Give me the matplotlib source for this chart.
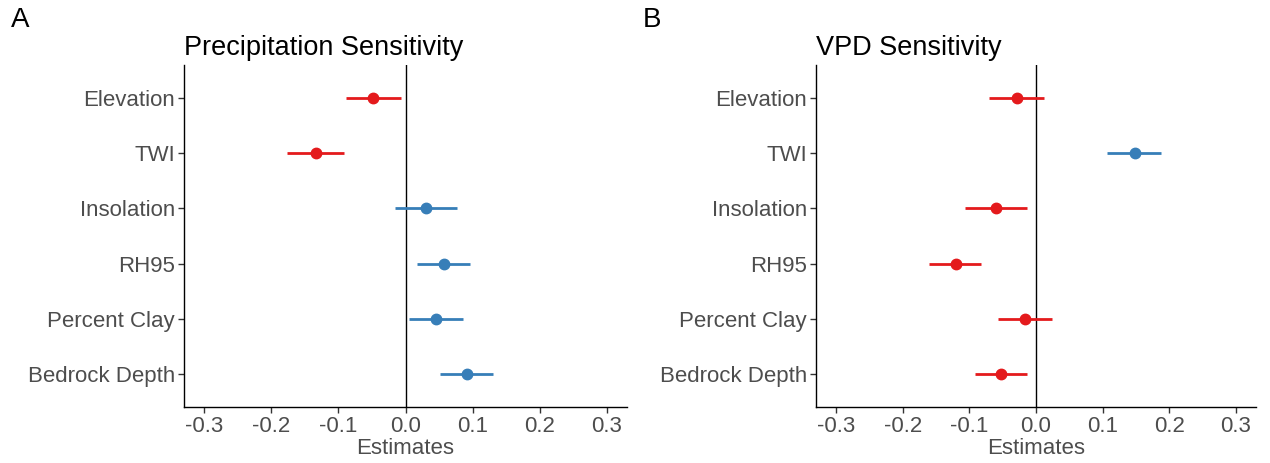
import matplotlib
matplotlib.use("Agg")
import matplotlib.pyplot as plt

# Coefficient estimates with confidence intervals
terms = ["Elevation", "TWI", "Insolation", "RH95", "Percent Clay", "Bedrock Depth"]

precip_est = [-0.048, -0.134, 0.031, 0.057, 0.046, 0.092]
precip_lo = [-0.089, -0.176, -0.016, 0.017, 0.005, 0.052]
precip_hi = [-0.007, -0.092, 0.076, 0.096, 0.086, 0.130]

vpd_est = [-0.028, 0.149, -0.060, -0.120, -0.016, -0.052]
vpd_lo = [-0.071, 0.106, -0.107, -0.160, -0.057, -0.092]
vpd_hi = [0.012, 0.188, -0.013, -0.083, 0.024, -0.013]

titles = ["Precipitation Sensitivity", "VPD Sensitivity"]
panel_tags = ["A", "B"]
xticks = [-0.3, -0.2, -0.1, 0.0, 0.1, 0.2, 0.3]

RED = "#E41A1C"
BLUE = "#377EB8"
GREY = "#4D4D4D"

plt.rcParams['font.family'] = ['Liberation Sans', 'DejaVu Sans']

fig = plt.figure(figsize=(12.7, 4.63), dpi=100)
W, H = 1270, 463
# axes boxes in pixels: left, top, right, bottom
boxes = [(184, 65, 627, 407), (816, 65, 1256, 407)]
tag_x = [11, 643]

data = [(precip_est, precip_lo, precip_hi), (vpd_est, vpd_lo, vpd_hi)]

for k in range(2):
    l, t, r, b = boxes[k]
    ax = fig.add_axes([l / W, 1 - b / H, (r - l) / W, (b - t) / H])
    est, lo, hi = data[k]
    ys = list(range(len(terms)))
    ax.axvline(0, color="black", lw=1.0, zorder=1)
    for i in ys:
        c = RED if est[i] < 0 else BLUE
        ax.plot([lo[i], hi[i]], [i, i], color=c, lw=2.0, solid_capstyle="butt", zorder=2)
        ax.plot(est[i], i, "o", color=c, ms=7.5, zorder=3)
    ax.set_xlim(-0.33, 0.33)
    ax.set_ylim(len(terms) - 1 + 0.6, -0.6)
    ax.set_yticks(ys)
    ax.set_yticklabels(terms)
    ax.set_xticks(xticks)
    ax.set_xticklabels([f"{v:.1f}" for v in xticks])
    ax.tick_params(axis="both", colors="#333333", labelcolor=GREY, labelsize=16,
                   length=4, width=1.0, pad=2.5)
    for side in ["top", "right"]:
        ax.spines[side].set_visible(False)
    for side in ["left", "bottom"]:
        ax.spines[side].set_color("black")
        ax.spines[side].set_linewidth(1.0)
    ax.set_xlabel("Estimates", fontsize=16, color=GREY, labelpad=1)
    ax.set_title(titles[k], loc="left", fontsize=19.5, color="black", pad=7)
    fig.text(tag_x[k] / W, 1 - 7 / H, panel_tags[k], fontsize=20, va="top", ha="left")

fig.savefig("out.png", dpi=100)
